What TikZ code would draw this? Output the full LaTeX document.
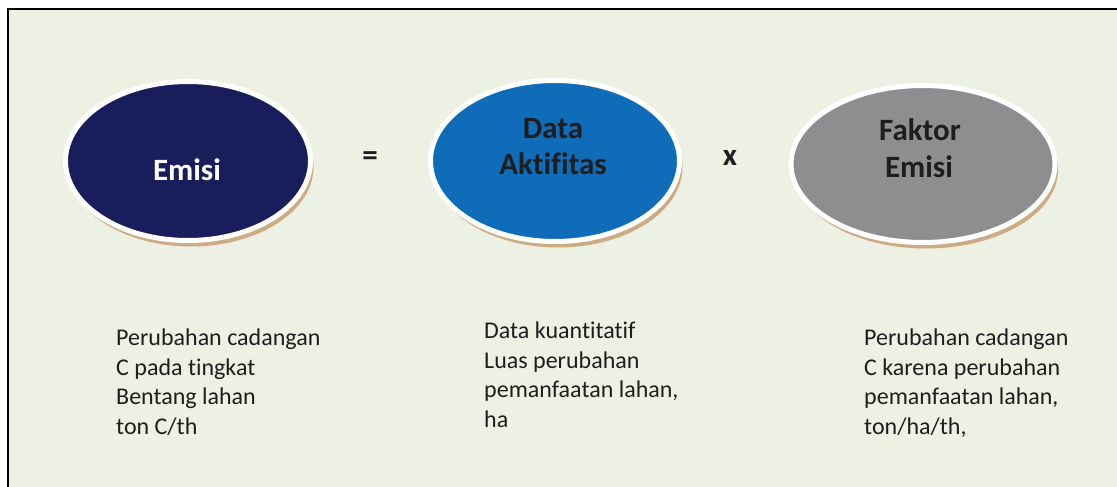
\documentclass[tikz,border=0pt]{standalone}
\usepackage{fontspec}
\setmainfont{Carlito}[RawFeature={-liga;-clig}]
\usetikzlibrary{shapes.geometric,shadows}
\definecolor{bgc}{HTML}{EDF1E3}
\definecolor{navyc}{HTML}{1A1D5C}
\definecolor{bluec}{HTML}{0E6CB8}
\definecolor{grayc}{HTML}{8E8E90}
\definecolor{shadc}{HTML}{C9A57A}
\definecolor{txtc}{HTML}{1E1E1E}
\tikzset{
  oval/.style={ellipse, draw=white, line width=5pt, inner sep=0pt,
    drop shadow={shadow xshift=3pt, shadow yshift=-6pt, fill=shadc, opacity=0.9}},
  title/.style={font=\bfseries\fontsize{31}{37}\selectfont, align=center, inner sep=0pt, anchor=base, text=txtc},
  desc/.style={font=\fontsize{24}{29.5}\selectfont, align=left, inner sep=0pt, anchor=north west, text=txtc},
}
\begin{document}
\begin{tikzpicture}[x=1pt,y=-1pt]
\useasboundingbox (0,0) rectangle (1117,487);
\fill[white] (0,0) rectangle (1117,487);
\fill[bgc] (8,10) rectangle (1117,487);
\draw[line width=2pt] (7.5,487) -- (7.5,9.5) -- (1117,9.5);

\node[oval, fill=navyc, minimum width=245pt, minimum height=159pt] (emisi) at (188,161) {};
\node[oval, fill=bluec, minimum width=249pt, minimum height=161pt] (data) at (555,161) {};
\node[oval, fill=grayc, minimum width=264pt, minimum height=157pt] (faktor) at (923,164) {};

\node[title, text=white] (emisiT) at (187,180) {Emisi};
\node[title] (dataT1) at (553,138) {Data};
\node[title] (dataT2) at (553,174) {Aktifitas};
\node[title] (faktorT1) at (920,140) {Faktor};
\node[title] (faktorT2) at (919,177) {Emisi};

\node[title] (eq) at (370,165) {=};
\node[title] (times) at (730,165) {x};

\node[desc] (descA) at (116,329) {Perubahan cadangan\\C pada tingkat\\Bentang lahan\\ton C/th};
\node[desc] (descB) at (484,322) {Data kuantitatif\\Luas perubahan\\pemanfaatan lahan,\\ha};
\node[desc] (descC) at (864,329) {Perubahan cadangan\\C karena perubahan\\pemanfaatan lahan,\\ton/ha/th,};
\end{tikzpicture}
\end{document}
